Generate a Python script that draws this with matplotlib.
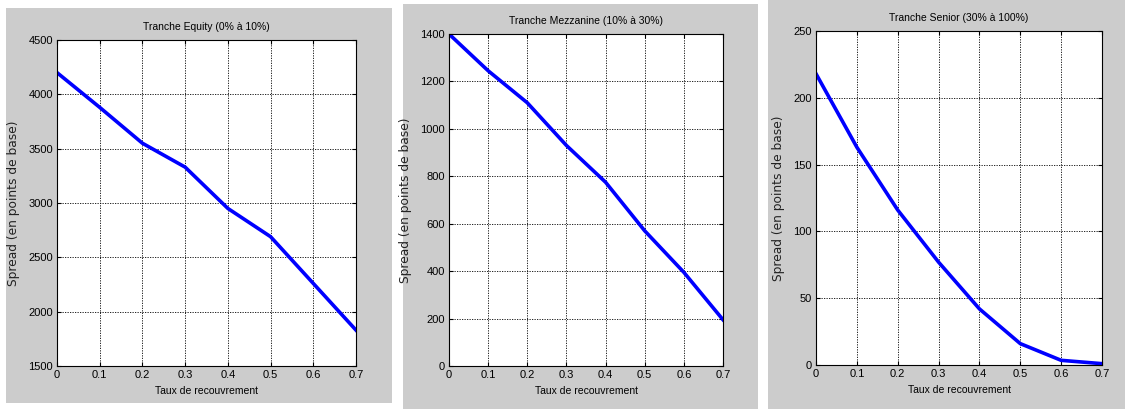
import matplotlib
matplotlib.use("Agg")
import matplotlib.pyplot as plt
from matplotlib.patches import Rectangle

# ── Data ─────────────────────────────────────────────────────────────────────
recovery = [0.0, 0.1, 0.2, 0.3, 0.4, 0.5, 0.6, 0.7]
equity_spread = [4200, 3880, 3550, 3330, 2950, 2690, 2260, 1830]
mezz_spread = [1400, 1245, 1110, 930, 775, 570, 395, 195]
senior_spread = [218, 163, 116, 77, 42, 16, 3.5, 1]

x_ticks = [0, 0.1, 0.2, 0.3, 0.4, 0.5, 0.6, 0.7]
x_ticklabels = ["0", "0.1", "0.2", "0.3", "0.4", "0.5", "0.6", "0.7"]

titles = ["Tranche Equity (0% à 10%)",
          "Tranche Mezzanine (10% à 30%)",
          "Tranche Senior (30% à 100%)"]
y_ticks = [[1500, 2000, 2500, 3000, 3500, 4000, 4500],
           [0, 200, 400, 600, 800, 1000, 1200, 1400],
           [0, 50, 100, 150, 200, 250]]
series = [equity_spread, mezz_spread, senior_spread]

# ── Layout (pixel boxes) ─────────────────────────────────────────────────────
W, H = 1125, 412
# gray panel boxes: (x0, x1, y_top, y_bottom)
panels = [(6, 392, 8, 403), (403, 758, 4, 409), (768, 1125, 0, 409)]
# axes boxes: (left, right, top, bottom)
axboxes = [(57, 356, 40, 366), (449, 723, 34, 366), (816, 1102, 31, 365)]

SANS = ["Liberation Sans", "DejaVu Sans"]

fig = plt.figure(figsize=(W / 100, H / 100), dpi=100)
fig.patch.set_facecolor("white")

for (x0, x1, yt, yb) in panels:
    fig.patches.append(Rectangle((x0 / W, 1 - yb / H), (x1 - x0) / W, (yb - yt) / H,
                                 transform=fig.transFigure, facecolor="#cccccc",
                                 edgecolor="none", zorder=-10))

for i, (l, r, t, b) in enumerate(axboxes):
    ax = fig.add_axes([l / W, 1 - b / H, (r - l) / W, (b - t) / H])
    ax.set_facecolor("white")
    ax.plot(recovery, series[i], color="#0000ff", linewidth=2.6, solid_joinstyle="round")
    ax.set_xlim(0, 0.7)
    ax.set_ylim(y_ticks[i][0], y_ticks[i][-1])
    ax.set_xticks(x_ticks)
    ax.set_xticklabels(x_ticklabels, family=SANS, fontsize=8)
    ax.set_yticks(y_ticks[i])
    ax.set_yticklabels([str(v) for v in y_ticks[i]], family=SANS, fontsize=8)
    ax.grid(True, color="black", linestyle=(0, (1.5, 1.5)), linewidth=0.6)
    ax.tick_params(direction="in", length=3, width=0.8, top=True, right=True, pad=3)
    for s in ax.spines.values():
        s.set_color("black")
        s.set_linewidth(0.8)
    ax.set_title(titles[i], family=SANS, fontsize=7.5, pad=7)
    ax.set_xlabel("Taux de recouvrement", family=SANS, fontsize=7.5, labelpad=4)
    ax.set_ylabel("Spread (en points de base)", family="DejaVu Sans",
                  fontsize=8.8, labelpad=6, color="#222222")

fig.savefig("out.png", dpi=100, facecolor=fig.get_facecolor())
plt.close()
